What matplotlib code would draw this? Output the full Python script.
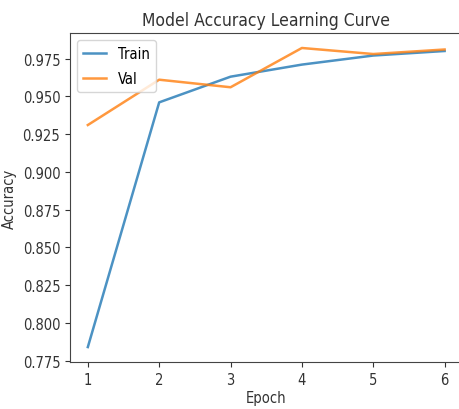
import matplotlib
matplotlib.use("Agg")
import matplotlib.pyplot as plt

epochs = [1, 2, 3, 4, 5, 6]
train_acc = [0.784, 0.946, 0.963, 0.971, 0.977, 0.980]
val_acc = [0.931, 0.961, 0.956, 0.982, 0.978, 0.981]
yticks = [0.775, 0.800, 0.825, 0.850, 0.875, 0.900, 0.925, 0.950, 0.975]

plt.rcParams['font.family'] = ['DejaVu Sans']
plt.rcParams['font.stretch'] = 'condensed'

fig = plt.figure(figsize=(4.59, 4.10), dpi=100)
ax = fig.add_axes([0.1525, 0.1146, 0.855, 0.8024])
ax.plot(epochs, train_acc, color='#1f77b4', lw=1.8, alpha=0.8, label='Train')
ax.plot(epochs, val_acc, color='#ff7f0e', lw=1.8, alpha=0.8, label='Val')
ax.set_xlim(0.75, 6.25)
ax.set_yticks(yticks)
ax.set_xticks(epochs)
ax.tick_params(labelsize=10.5, colors='#333333', labelcolor='#333333')
ax.set_title('Model Accuracy Learning Curve', fontsize=12.5, color='#333333')
ax.set_xlabel('Epoch', fontsize=10.5, color='#333333', labelpad=2)
ax.set_ylabel('Accuracy', fontsize=10.5, color='#333333')
for s in ax.spines.values():
    s.set_color('#444444')
ax.legend(loc='upper left', fontsize=10.5, handlelength=1.6, labelspacing=0.7)
fig.savefig('out.png', dpi=100)
